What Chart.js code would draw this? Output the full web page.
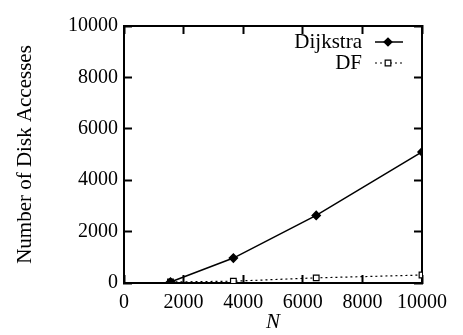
<!DOCTYPE html>
<html>
<head>
<meta charset="utf-8">
<script src="https://cdn.jsdelivr.net/npm/chart.js@4.4.1/dist/chart.umd.min.js"></script>
<style>
  html, body { margin: 0; padding: 0; background: #fff; }
</style>
</head>
<body>
<canvas id="chart" width="463" height="335"></canvas>
<script>
// values
const nValues = [1560, 3670, 6450, 10000];
const dijkstraValues = [40, 970, 2630, 5100];
const dfValues = [40, 70, 200, 310];
const axisTicks = [0, 2000, 4000, 6000, 8000, 10000];

const serif = '"Liberation Serif", "Times New Roman", serif';

function toPoints(xs, ys) {
  return xs.map(function (x, i) { return { x: x, y: ys[i] }; });
}

function fixedTicks(s) {
  s.ticks = axisTicks.map(function (v) { return { value: v }; });
}

// axis line plus short tick marks that point into the plot (negative tick length)
const inwardGrid = {
  display: true,
  drawOnChartArea: false,
  drawTicks: true,
  tickLength: -8,
  tickColor: '#000',
  tickWidth: 2
};
const boxBorder = { display: true, color: '#000', width: 2 };

// gnuplot style key in the upper right corner
const keyPlugin = {
  id: 'key',
  afterDraw(chart) {
    const ctx = chart.ctx;
    ctx.save();
    ctx.font = '21px ' + serif;
    ctx.textAlign = 'right';
    ctx.textBaseline = 'middle';
    const textRight = 362;
    const lineL = 375, lineR = 403;
    chart.data.datasets.forEach(function (ds, i) {
      const y = 42 + i * 21;
      ctx.fillStyle = '#000';
      ctx.fillText(ds.label, textRight, y);
      ctx.strokeStyle = ds.borderColor;
      ctx.lineWidth = ds.borderWidth;
      ctx.setLineDash(ds.borderDash || []);
      ctx.beginPath();
      ctx.moveTo(lineL, y); ctx.lineTo(lineR, y);
      ctx.stroke();
      ctx.setLineDash([]);
      ctx.fillStyle = ds.pointBackgroundColor;
      ctx.lineWidth = 1.2;
      Chart.helpers.drawPoint(ctx, {
        pointStyle: ds.pointStyle,
        radius: ds.pointRadius,
        borderWidth: 1.2
      }, (lineL + lineR) / 2 - 1, y);
    });
    ctx.restore();
  }
};

new Chart(document.getElementById('chart').getContext('2d'), {
  type: 'line',
  data: {
    datasets: [
      {
        label: 'Dijkstra',
        data: toPoints(nValues, dijkstraValues),
        borderColor: '#000',
        borderWidth: 1.5,
        pointStyle: 'rectRot',
        pointRadius: 4,
        pointBackgroundColor: '#000',
        pointBorderColor: '#000',
        tension: 0
      },
      {
        label: 'DF',
        data: toPoints(nValues, dfValues),
        borderColor: '#000',
        borderWidth: 1.2,
        borderDash: [2, 3],
        pointStyle: 'rect',
        pointRadius: 4,
        pointBackgroundColor: '#fff',
        pointBorderColor: '#000',
        pointBorderWidth: 1.2,
        tension: 0
      }
    ]
  },
  options: {
    responsive: false,
    animation: false,
    layout: { padding: { top: 4, right: 31, left: 0, bottom: 0 } },
    plugins: {
      legend: { display: false },
      tooltip: { enabled: false }
    },
    scales: {
      x: {
        type: 'linear',
        min: 0,
        max: 10000,
        afterBuildTicks: fixedTicks,
        afterFit: function (s) { s.height = 52; },
        grid: inwardGrid,
        border: boxBorder,
        ticks: {
          color: '#000',
          padding: 16,
          font: { family: serif, size: 20 },
          maxRotation: 0,
          callback: function (v) { return String(v); }
        },
        title: {
          display: true,
          text: 'N',
          color: '#000',
          padding: { top: -6, bottom: 0 },
          font: { family: serif, size: 21, style: 'italic' }
        }
      },
      x2: {
        type: 'linear',
        position: 'top',
        min: 0,
        max: 10000,
        afterBuildTicks: fixedTicks,
        afterFit: function (s) { s.height = 0; },
        grid: inwardGrid,
        border: boxBorder,
        ticks: { display: false }
      },
      y: {
        min: 0,
        max: 10000,
        afterBuildTicks: fixedTicks,
        afterFit: function (s) { s.width = 124; },
        grid: inwardGrid,
        border: boxBorder,
        ticks: {
          color: '#000',
          padding: 14,
          font: { family: serif, size: 20 },
          callback: function (v) { return String(v); }
        },
        title: {
          display: true,
          text: 'Number of Disk Accesses',
          color: '#000',
          padding: { top: 13, bottom: 0 },
          font: { family: serif, size: 21 }
        }
      },
      y2: {
        position: 'right',
        min: 0,
        max: 10000,
        afterBuildTicks: fixedTicks,
        afterFit: function (s) { s.width = 0; },
        grid: inwardGrid,
        border: boxBorder,
        ticks: { display: false }
      }
    }
  },
  plugins: [keyPlugin]
});
</script>
</body>
</html>
